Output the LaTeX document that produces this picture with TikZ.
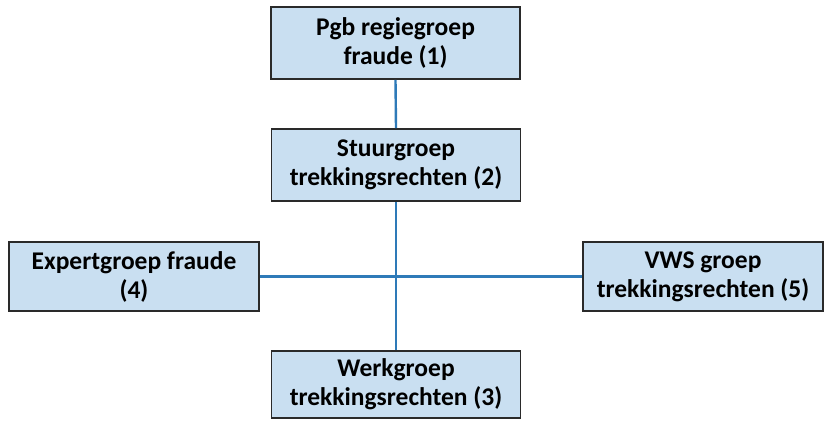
\documentclass[tikz,border=0pt]{standalone}
\usepackage{fontspec}
\setmainfont{Carlito}
\definecolor{boxfill}{HTML}{C9DFF1}
\definecolor{boxline}{HTML}{2A2A2A}
\definecolor{linkblue}{HTML}{2E7AB8}
\begin{document}
\begin{tikzpicture}[x=1pt,y=-1pt,
  orgbox/.style={draw=boxline,line width=1.8pt,fill=boxfill,align=center,
    font=\fontsize{25.5}{29}\selectfont\bfseries,inner sep=0pt},
  link/.style={draw=linkblue,line width=2.4pt}]
\useasboundingbox (0,0) rectangle (826,420);
\node[orgbox,minimum width=249pt,minimum height=72pt] (b1) at (395.5,43) {Pgb regiegroep\\fraude (1)};
\node[orgbox,minimum width=249pt,minimum height=72pt] (b2) at (396,165) {Stuurgroep\\trekkingsrechten (2)};
\node[orgbox,minimum width=250pt,minimum height=69pt] (b4) at (134,276.5) {Expertgroep fraude\\(4)};
\node[orgbox,minimum width=240pt,minimum height=69pt] (b5) at (703,276.5) {VWS groep\\trekkingsrechten (5)};
\node[orgbox,minimum width=249pt,minimum height=67pt] (b3) at (396,384.5) {Werkgroep\\trekkingsrechten (3)};
\draw[link] (b1.south) -- (b2.north);
\draw[link] (b2.south) -- (b3.north);
\draw[link] (b4.east) -- (b5.west);
\end{tikzpicture}
\end{document}
